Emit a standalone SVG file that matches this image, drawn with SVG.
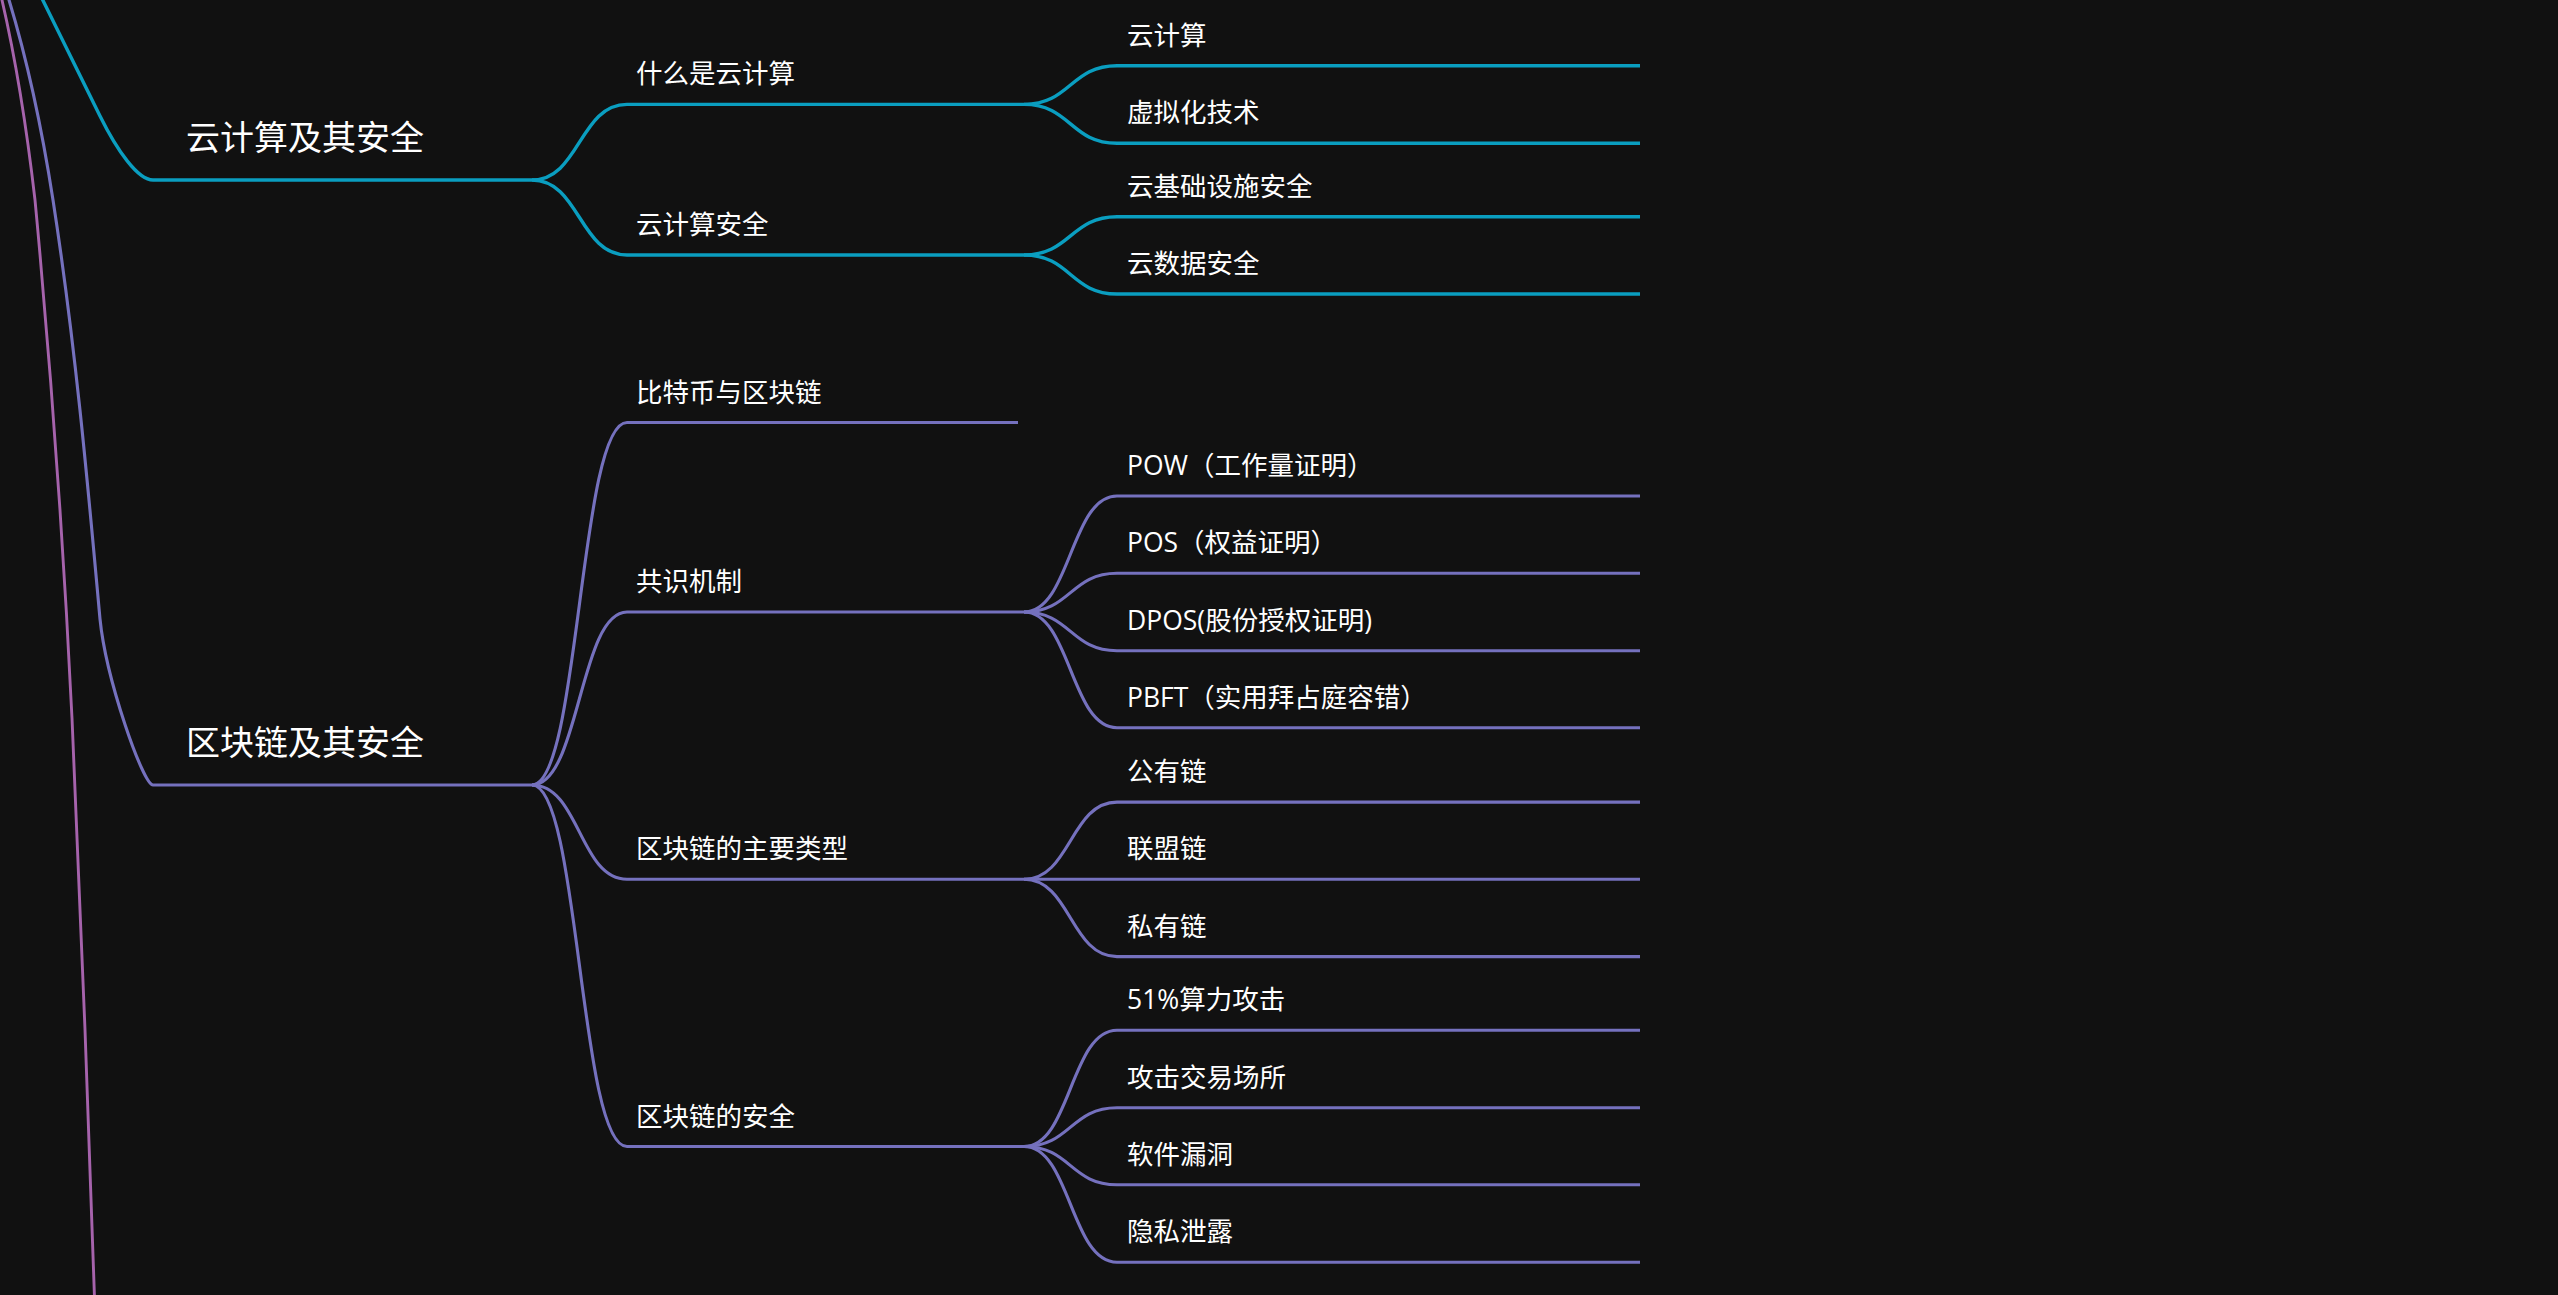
<svg xmlns="http://www.w3.org/2000/svg" width="2558" height="1295" viewBox="0 0 2558 1295">
<style>
.bg{fill:#111111}
.c{fill:none;stroke:#0A9EC0;stroke-width:3.4}
.p{fill:none;stroke:#7571BE;stroke-width:3.1}
.m{fill:none;stroke:#A663AC;stroke-width:2.9}
text{fill:#FFFFFF;font-family:"Open Sans","Noto Sans CJK SC",sans-serif}
.t1{font-size:34px}
.t2{font-size:26.5px}
</style>
<rect class="bg" x="0" y="0" width="2558" height="1295"/>
<g id="connectors">
<path class="m" d="M -8 -40 C 13.6 40, 25.8 120, 35 200 C 51 370, 63.8 548, 72 718 C 81.6 918, 89 1140, 96 1340"/>
<path class="p" d="M -4 -40 C 24 40, 40.6 120, 53 200 C 74.7 340, 87.4 479, 100 619 C 106 679, 143 785, 153 785"/>
<path class="c" d="M 23 -40 L 100 116 C 117.3 151, 138 180, 153 180"/>
<path class="c" d="M 532 180 C 579.5 180, 579.5 104.4, 627 104.4"/>
<path class="c" d="M 532 180 C 579.5 180, 579.5 255, 627 255"/>
<path class="c" d="M 1024 104.4 C 1070.5 104.4, 1070.5 65.7, 1117 65.7"/>
<path class="c" d="M 1024 104.4 C 1070.5 104.4, 1070.5 143.3, 1117 143.3"/>
<path class="c" d="M 1024 255 C 1070.5 255, 1070.5 216.7, 1117 216.7"/>
<path class="c" d="M 1024 255 C 1070.5 255, 1070.5 294, 1117 294"/>
<path class="p" d="M 532 785 C 579.5 785, 579.5 422.5, 627 422.5"/>
<path class="p" d="M 532 785 C 579.5 785, 579.5 612, 627 612"/>
<path class="p" d="M 532 785 C 579.5 785, 579.5 879.3, 627 879.3"/>
<path class="p" d="M 532 785 C 579.5 785, 579.5 1146.5, 627 1146.5"/>
<path class="p" d="M 1024 612 C 1070.5 612, 1070.5 496, 1117 496"/>
<path class="p" d="M 1024 612 C 1070.5 612, 1070.5 573.3, 1117 573.3"/>
<path class="p" d="M 1024 612 C 1070.5 612, 1070.5 650.7, 1117 650.7"/>
<path class="p" d="M 1024 612 C 1070.5 612, 1070.5 727.7, 1117 727.7"/>
<path class="p" d="M 1024 879.3 C 1070.5 879.3, 1070.5 802.1, 1117 802.1"/>
<path class="p" d="M 1024 879.3 L 1117 879.3"/>
<path class="p" d="M 1024 879.3 C 1070.5 879.3, 1070.5 956.6, 1117 956.6"/>
<path class="p" d="M 1024 1146.5 C 1070.5 1146.5, 1070.5 1030.2, 1117 1030.2"/>
<path class="p" d="M 1024 1146.5 C 1070.5 1146.5, 1070.5 1107.7, 1117 1107.7"/>
<path class="p" d="M 1024 1146.5 C 1070.5 1146.5, 1070.5 1184.8, 1117 1184.8"/>
<path class="p" d="M 1024 1146.5 C 1070.5 1146.5, 1070.5 1262.3, 1117 1262.3"/>
</g>
<g id="n-cloud"><line class="c" x1="153" y1="180" x2="532" y2="180"/><text class="t1" x="186" y="150">云计算及其安全</text></g>
<g id="n-what-cloud"><line class="c" x1="627" y1="104.4" x2="1024" y2="104.4"/><text class="t2" x="636" y="83.4">什么是云计算</text></g>
<g id="n-cloud-sec"><line class="c" x1="627" y1="255" x2="1024" y2="255"/><text class="t2" x="636" y="234">云计算安全</text></g>
<g id="n-cloudcomp"><line class="c" x1="1117" y1="65.7" x2="1640" y2="65.7"/><text class="t2" x="1127" y="44.7">云计算</text></g>
<g id="n-virt"><line class="c" x1="1117" y1="143.3" x2="1640" y2="143.3"/><text class="t2" x="1127" y="122.3">虚拟化技术</text></g>
<g id="n-infra"><line class="c" x1="1117" y1="216.7" x2="1640" y2="216.7"/><text class="t2" x="1127" y="195.7">云基础设施安全</text></g>
<g id="n-data"><line class="c" x1="1117" y1="294" x2="1640" y2="294"/><text class="t2" x="1127" y="273">云数据安全</text></g>
<g id="n-chain"><line class="p" x1="153" y1="785" x2="532" y2="785"/><text class="t1" x="186" y="755">区块链及其安全</text></g>
<g id="n-btc"><line class="p" x1="627" y1="422.5" x2="1018" y2="422.5"/><text class="t2" x="636" y="401.5">比特币与区块链</text></g>
<g id="n-consensus"><line class="p" x1="627" y1="612" x2="1024" y2="612"/><text class="t2" x="636" y="591">共识机制</text></g>
<g id="n-types"><line class="p" x1="627" y1="879.3" x2="1024" y2="879.3"/><text class="t2" x="636" y="858.3">区块链的主要类型</text></g>
<g id="n-chainsec"><line class="p" x1="627" y1="1146.5" x2="1024" y2="1146.5"/><text class="t2" x="636" y="1125.5">区块链的安全</text></g>
<g id="n-pow"><line class="p" x1="1117" y1="496" x2="1640" y2="496"/><text class="t2" x="1127" y="475">POW（工作量证明）</text></g>
<g id="n-pos"><line class="p" x1="1117" y1="573.3" x2="1640" y2="573.3"/><text class="t2" x="1127" y="552.3">POS（权益证明）</text></g>
<g id="n-dpos"><line class="p" x1="1117" y1="650.7" x2="1640" y2="650.7"/><text class="t2" x="1127" y="629.7">DPOS(股份授权证明)</text></g>
<g id="n-pbft"><line class="p" x1="1117" y1="727.7" x2="1640" y2="727.7"/><text class="t2" x="1127" y="706.7">PBFT（实用拜占庭容错）</text></g>
<g id="n-public"><line class="p" x1="1117" y1="802.1" x2="1640" y2="802.1"/><text class="t2" x="1127" y="781.1">公有链</text></g>
<g id="n-consortium"><line class="p" x1="1117" y1="879.3" x2="1640" y2="879.3"/><text class="t2" x="1127" y="858.3">联盟链</text></g>
<g id="n-private"><line class="p" x1="1117" y1="956.6" x2="1640" y2="956.6"/><text class="t2" x="1127" y="935.6">私有链</text></g>
<g id="n-51"><line class="p" x1="1117" y1="1030.2" x2="1640" y2="1030.2"/><text class="t2" x="1127" y="1009.2">51%算力攻击</text></g>
<g id="n-exchange"><line class="p" x1="1117" y1="1107.7" x2="1640" y2="1107.7"/><text class="t2" x="1127" y="1086.7">攻击交易场所</text></g>
<g id="n-bug"><line class="p" x1="1117" y1="1184.8" x2="1640" y2="1184.8"/><text class="t2" x="1127" y="1163.8">软件漏洞</text></g>
<g id="n-privacy"><line class="p" x1="1117" y1="1262.3" x2="1640" y2="1262.3"/><text class="t2" x="1127" y="1241.3">隐私泄露</text></g>
</svg>
